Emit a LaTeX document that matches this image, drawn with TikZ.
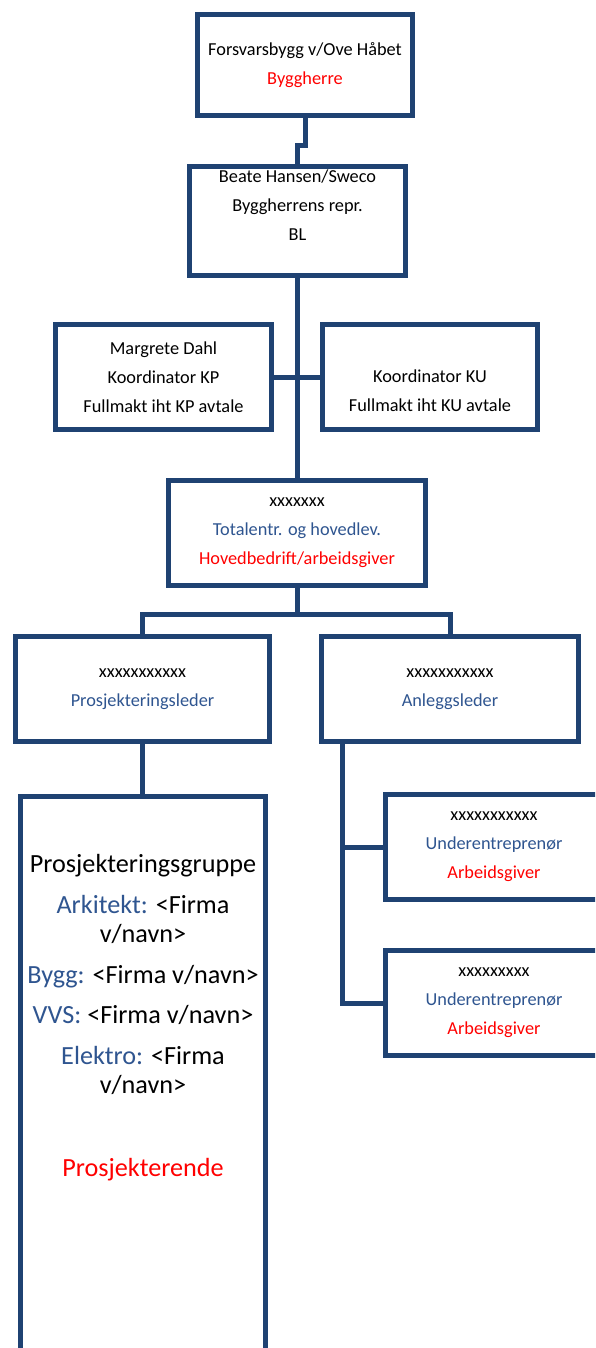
\documentclass[tikz,border=0pt]{standalone}
\usepackage{fontspec}
\setmainfont{Carlito}
\usetikzlibrary{positioning}

\definecolor{linkblue}{HTML}{1F4272}
\definecolor{textblue}{HTML}{2F5590}
\definecolor{textred}{HTML}{FF0000}
\newcommand{\tblue}[1]{\textcolor{textblue}{#1}}
\newcommand{\tred}[1]{\textcolor{textred}{#1}}

\tikzset{
  orgbox/.style={draw=linkblue, line width=5pt, fill=white, align=center, inner sep=2pt,
    font=\fontsize{18.3}{29}\selectfont},
  link/.style={draw=linkblue, line width=5pt},
  grouptext/.style={align=center, inner sep=0pt, font=\fontsize{26.2}{29}\selectfont}
}

\begin{document}
\begin{tikzpicture}[x=1pt, y=-1pt]
    \useasboundingbox (0,0) rectangle (595,1348);
    \clip (0,0) rectangle (595,1348);

    \node[orgbox, minimum width=215pt, minimum height=101pt] (top) at (305,65)
      {Forsvarsbygg v/Ove Håbet\\\tred{Byggherre}};
    \node[orgbox, minimum width=216pt, minimum height=109pt] (bl) at (297.5,221)
      {Beate Hansen/Sweco\\Byggherrens repr.\\BL\\\vphantom{Bg}};

    \node[orgbox, minimum width=216pt, minimum height=105pt] (kp) at (163.5,377)
      {Margrete Dahl\\Koordinator KP\\Fullmakt iht KP avtale};
    \node[orgbox, minimum width=215pt, minimum height=105pt] (ku) at (430,377)
      {\vphantom{Fg}\\Koordinator KU\\Fullmakt iht KU avtale};

    \node[orgbox, minimum width=257pt, minimum height=105pt] (tot) at (297,533)
      {xxxxxxx\\\tblue{Totalentr. og hovedlev.}\\\tred{Hovedbedrift/arbeidsgiver}};

    \node[orgbox, minimum width=254pt, minimum height=105pt] (pl) at (142.5,689)
      {xxxxxxxxxxx\\\tblue{Prosjekteringsleder}};
    \node[orgbox, minimum width=257pt, minimum height=105pt] (al) at (450,689)
      {xxxxxxxxxxx\\\tblue{Anleggsleder}};

    \node[orgbox, minimum width=245pt, minimum height=620pt, anchor=north] (grp) at (143,793.5) {};
    \node[grouptext, below=61pt of grp.north] (grptxt)
      {Prosjekteringsgruppe\\[12pt]\tblue{Arkitekt:} <Firma\\v/navn>\\[12pt]\tblue{Bygg:} <Firma v/navn>\\[11pt]
       \tblue{VVS:} <Firma v/navn>\\[12pt]\tblue{Elektro:} <Firma\\v/navn>\\[54pt]\tred{Prosjekterende}};

    \node[orgbox, minimum width=217pt, minimum height=105pt] (sub1) at (494,847)
      {xxxxxxxxxxx\\\tblue{Underentreprenør}\\\tred{Arbeidsgiver}};
    \node[orgbox, minimum width=217pt, minimum height=105pt] (sub2) at (494,1003)
      {xxxxxxxxx\\\tblue{Underentreprenør}\\\tred{Arbeidsgiver}};

    \draw[link] (top.south) -- ++(0,27.5) -| (bl.north);
    \draw[link] (bl.south) -- (bl.south |- tot.north);
    \draw[link] (kp.east) -- (ku.west);

    \draw[link] (tot.south) -- ++(0,26.5) coordinate (bar);
    \draw[link] (pl.north) |- (bar) -| (al.north);
    \draw[link] (pl.south) -- (pl.south |- grp.north);

    \coordinate (alfoot) at ([xshift=23.5pt]al.south west);
    \draw[link] (alfoot) |- (sub2.west);
    \draw[link] (alfoot |- sub1.west) -- (sub1.west);
\end{tikzpicture}
\end{document}
